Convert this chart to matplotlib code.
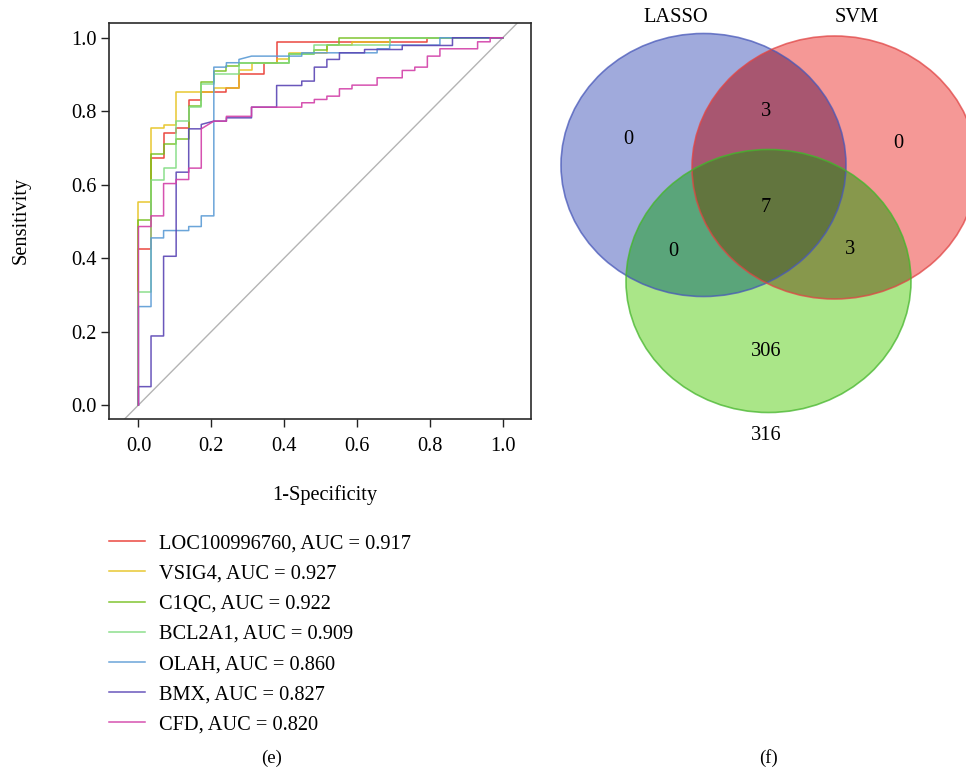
import numpy as np
import matplotlib
matplotlib.use("Agg")
import matplotlib.pyplot as plt
from matplotlib.patches import Ellipse, Polygon

plt.rcParams['font.family'] = ['Liberation Serif', 'DejaVu Serif']

# ROC curves: x given as number of false positives out of 29 controls, y = sensitivity
N_CONTROLS = 29

gene_names = ['LOC100996760', 'VSIG4', 'C1QC', 'BCL2A1', 'OLAH', 'BMX', 'CFD']
gene_auc = [0.917, 0.927, 0.922, 0.909, 0.860, 0.827, 0.820]

loc_fp = [0, 0, 1, 1, 2, 2, 3, 3, 4, 4, 5, 5, 7, 7, 8, 8, 10, 10, 11, 11, 23, 23, 29]
loc_sens = [0, 0.425, 0.425, 0.673, 0.673, 0.741, 0.741, 0.754, 0.754, 0.831, 0.831, 0.852,
            0.852, 0.862, 0.862, 0.901, 0.901, 0.930, 0.930, 0.989, 0.989, 1.0, 1.0]

vsig4_fp = [0, 0, 1, 1, 2, 2, 3, 3, 6, 6, 8, 8, 9, 9, 11, 11, 12, 12, 15, 15, 17, 17, 20, 20, 29]
vsig4_sens = [0, 0.554, 0.554, 0.753, 0.753, 0.762, 0.762, 0.852, 0.852, 0.862, 0.862, 0.912,
              0.912, 0.932, 0.932, 0.941, 0.941, 0.959, 0.959, 0.98, 0.98, 0.989, 0.989, 1.0, 1.0]

c1qc_fp = [0, 0, 1, 1, 2, 2, 3, 3, 4, 4, 5, 5, 6, 6, 7, 7, 8, 8, 12, 12, 14, 14, 15, 15, 16, 16, 29]
c1qc_sens = [0, 0.505, 0.505, 0.684, 0.684, 0.712, 0.712, 0.723, 0.723, 0.813, 0.813, 0.879,
             0.879, 0.909, 0.909, 0.923, 0.923, 0.932, 0.932, 0.955, 0.955, 0.966, 0.966,
             0.98, 0.98, 1.0, 1.0]

bcl2a1_fp = [0, 0, 1, 1, 2, 2, 3, 3, 4, 4, 5, 5, 6, 6, 8, 8, 12, 12, 14, 14, 20, 20, 29]
bcl2a1_sens = [0, 0.307, 0.307, 0.614, 0.614, 0.645, 0.645, 0.773, 0.773, 0.812, 0.812, 0.873,
               0.873, 0.90, 0.90, 0.93, 0.93, 0.955, 0.955, 0.98, 0.98, 1.0, 1.0]

olah_fp = [0, 0, 1, 1, 2, 2, 4, 4, 5, 5, 6, 6, 7, 7, 8, 8, 9, 13, 13, 19, 19, 20, 20, 24, 24, 29]
olah_sens = [0, 0.268, 0.268, 0.455, 0.455, 0.475, 0.475, 0.486, 0.486, 0.515, 0.515, 0.92,
             0.92, 0.932, 0.932, 0.941, 0.95, 0.95, 0.959, 0.959, 0.97, 0.97, 0.98, 0.98, 1.0, 1.0]

bmx_fp = [0, 0, 1, 1, 2, 2, 3, 3, 4, 4, 5, 5, 6, 7, 7, 9, 9, 11, 11, 13, 13, 14, 14, 15, 15,
          16, 16, 18, 18, 21, 21, 25, 25, 29]
bmx_sens = [0, 0.05, 0.05, 0.188, 0.188, 0.405, 0.405, 0.634, 0.634, 0.752, 0.752, 0.764,
            0.773, 0.773, 0.782, 0.782, 0.811, 0.811, 0.870, 0.870, 0.882, 0.882, 0.920, 0.920,
            0.941, 0.941, 0.959, 0.959, 0.968, 0.968, 0.979, 0.979, 1.0, 1.0]

cfd_fp = [0, 0, 1, 1, 2, 2, 3, 3, 4, 4, 5, 5, 6, 7, 7, 9, 9, 13, 13, 14, 14, 15, 15, 16, 16,
          17, 17, 19, 19, 21, 21, 22, 22, 23, 23, 24, 24, 27, 27, 28, 28, 29]
cfd_sens = [0, 0.486, 0.486, 0.515, 0.515, 0.603, 0.603, 0.614, 0.614, 0.645, 0.645, 0.752,
            0.773, 0.773, 0.786, 0.786, 0.811, 0.811, 0.823, 0.823, 0.832, 0.832, 0.841, 0.841,
            0.861, 0.861, 0.871, 0.871, 0.891, 0.891, 0.911, 0.911, 0.920, 0.920, 0.950, 0.950,
            0.970, 0.970, 0.989, 0.989, 1.0, 1.0]

roc_fp = [loc_fp, vsig4_fp, c1qc_fp, bcl2a1_fp, olah_fp, bmx_fp, cfd_fp]
roc_sens = [loc_sens, vsig4_sens, c1qc_sens, bcl2a1_sens, olah_sens, bmx_sens, cfd_sens]
roc_colors = ['#E8342C', '#E6C21C', '#74BE1C', '#80DB80', '#5B9BD5', '#5A45B4', '#D23FA8']

# Venn: set names and region counts
venn_sets = ['LASSO', 'SVM', '316']
venn_regions = ['A', 'B', 'C', 'AB', 'AC', 'BC', 'ABC']
venn_counts = [0, 0, 306, 3, 0, 3, 7]

FS = 14.7


def draw_roc(fig):
    ax = fig.add_axes([0.1128, 0.4566, 0.4374, 0.5130])
    ax.plot([-0.2, 1.2], [-0.2, 1.2], color='#B4B4B4', lw=1.0, zorder=1)
    handles = []
    for name, auc, fp, sens, col in zip(gene_names, gene_auc, roc_fp, roc_sens, roc_colors):
        fpr = np.array(fp) / N_CONTROLS
        line, = ax.plot(fpr, sens, color=col, lw=1.1, alpha=0.9, zorder=2,
                        label=f'{name}, AUC = {auc:.3f}')
        handles.append(line)
    ax.set_xlim(-0.081, 1.079)
    ax.set_ylim(-0.038, 1.039)
    ticks = [0.0, 0.2, 0.4, 0.6, 0.8, 1.0]
    ax.set_xticks(ticks)
    ax.set_yticks(ticks)
    ax.set_xticklabels([f'{t:.1f}' for t in ticks])
    ax.set_yticklabels([f'{t:.1f}' for t in ticks])
    ax.tick_params(direction='out', length=6, width=1.0, labelsize=FS, color='#222222')
    ax.tick_params(axis='x', pad=7)
    ax.tick_params(axis='y', pad=3)
    for sp in ax.spines.values():
        sp.set_linewidth(1.2)
        sp.set_color('#2A2A2A')
    ax.set_xlabel('1-Specificity', fontsize=FS)
    ax.set_ylabel('Sensitivity', fontsize=FS)
    ax.xaxis.set_label_coords(0.511, -0.168)
    ax.yaxis.set_label_coords(-0.186, 0.503)

    fig.legend(handles=handles, loc='upper left', bbox_to_anchor=(0.1128, 1 - 534 / 771),
               frameon=False, fontsize=FS, handlelength=1.75, handletextpad=0.68,
               labelspacing=0.535, borderpad=0, borderaxespad=0)


def ellipse_inside(x, y, e):
    cx, cy, w, h = e
    return ((x - cx) / (w / 2)) ** 2 + ((y - cy) / (h / 2)) ** 2 <= 1.0 + 1e-9


def intersection_polygon(ells):
    pts = []
    t = np.linspace(0, 2 * np.pi, 1440, endpoint=False)
    for i, e in enumerate(ells):
        cx, cy, w, h = e
        x = cx + w / 2 * np.cos(t)
        y = cy + h / 2 * np.sin(t)
        keep = np.ones_like(x, dtype=bool)
        for j, o in enumerate(ells):
            if j != i:
                keep &= ellipse_inside(x, y, o)
        pts.append(np.column_stack([x[keep], y[keep]]))
    pts = np.vstack(pts)
    c = pts.mean(axis=0)
    order = np.argsort(np.arctan2(pts[:, 1] - c[1], pts[:, 0] - c[0]))
    return pts[order]


def draw_venn(fig):
    ax = fig.add_axes([540 / 966, 0, 426 / 966, 1])
    ax.set_xlim(540, 966)
    ax.set_ylim(771, 0)
    ax.axis('off')

    ell_a = (703.5, 165.0, 285, 263)
    ell_b = (834.5, 167.5, 285, 263)
    ell_c = (768.5, 281.0, 285, 263)
    ells = [ell_a, ell_b, ell_c]

    fill_single = ['#A0AADC', '#F59896', '#AAE688']
    edge_cols = ['#4858B9', '#E04545', '#45B52C']
    for e, fc in zip(ells, fill_single):
        ax.add_patch(Ellipse((e[0], e[1]), e[2], e[3], facecolor=fc, edgecolor='none', zorder=1))

    overlaps = [([ell_a, ell_b], '#A85670'), ([ell_a, ell_c], '#5AA57A'),
                ([ell_b, ell_c], '#87984C'), ([ell_a, ell_b, ell_c], '#62753E')]
    for group, fc in overlaps:
        ax.add_patch(Polygon(intersection_polygon(group), closed=True, facecolor=fc,
                             edgecolor='none', zorder=2))

    for e, ec in zip(ells, edge_cols):
        ax.add_patch(Ellipse((e[0], e[1]), e[2], e[3], fill=False, edgecolor=ec,
                             lw=1.2, alpha=0.75, zorder=3))

    label_pos = {'A': (628, 140), 'B': (898, 144), 'C': (766, 351), 'AB': (766, 112),
                 'AC': (673, 251), 'BC': (850, 250), 'ABC': (766, 207)}
    for reg, cnt in zip(venn_regions, venn_counts):
        x, y = label_pos[reg]
        ax.text(x, y, str(cnt), ha='center', va='center', fontsize=FS, zorder=4)

    set_pos = [(676, 18), (857, 18), (766, 435)]
    for name, (x, y) in zip(venn_sets, set_pos):
        ax.text(x, y, name, ha='center', va='center', fontsize=FS, zorder=4)


def main():
    fig = plt.figure(figsize=(9.66, 7.71), dpi=100)
    draw_roc(fig)
    draw_venn(fig)
    fig.text(272 / 966, 1 - 758 / 771, '(e)', ha='center', va='center', fontsize=13.5)
    fig.text(768 / 966, 1 - 758 / 771, '(f)', ha='center', va='center', fontsize=13.5)
    fig.savefig('out.png', dpi=100)


if __name__ == '__main__':
    main()
